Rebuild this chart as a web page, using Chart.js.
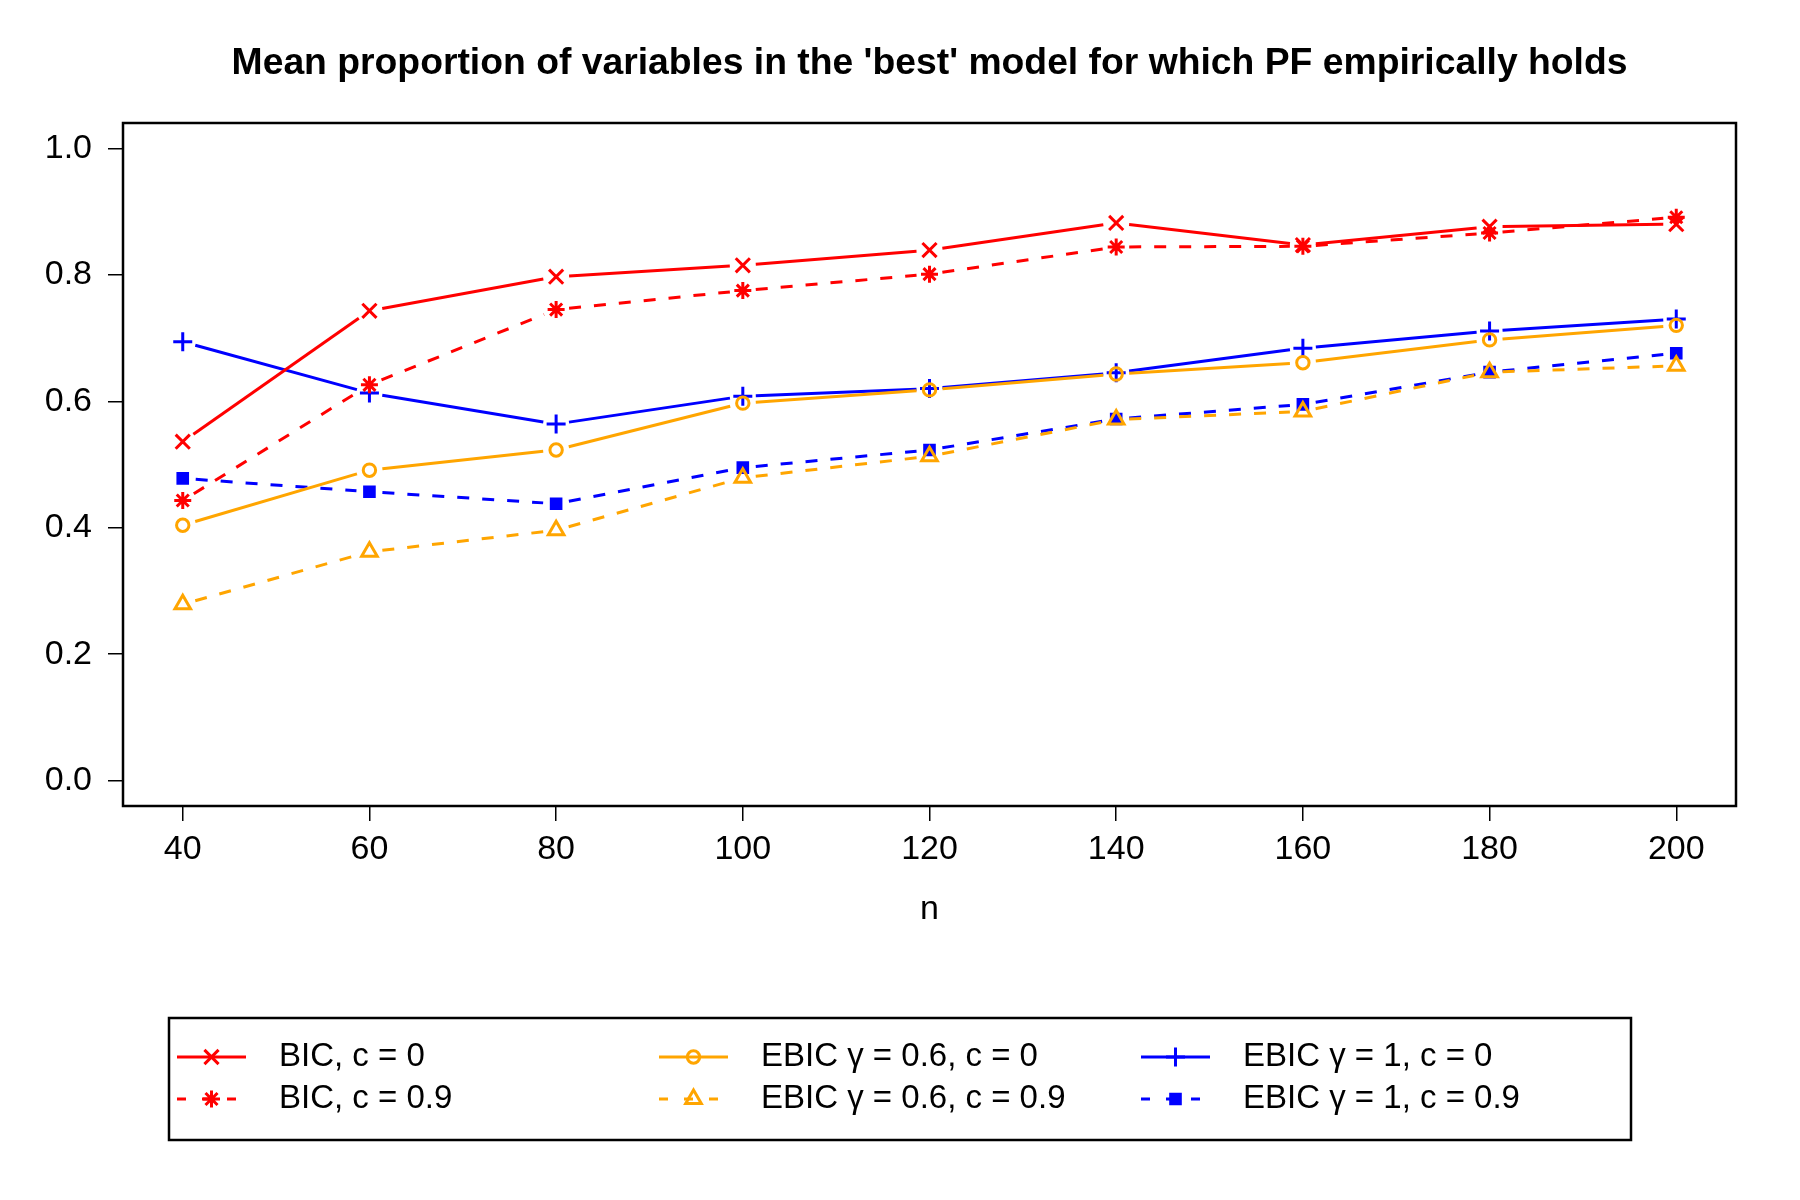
<!DOCTYPE html>
<html>
<head>
<meta charset="utf-8">
<script src="https://cdn.jsdelivr.net/npm/chart.js@4/dist/chart.umd.min.js"></script>
<style>
  html, body { margin: 0; padding: 0; background: #fff; }
  #wrap { width: 1800px; height: 1200px; }
</style>
</head>
<body>
<div id="wrap"><canvas id="grafico" width="1800" height="1200"></canvas></div>
<script>
// Dados
const nValores = [40, 60, 80, 100, 120, 140, 160, 180, 200];
const yTicks = [0, 0.2, 0.4, 0.6, 0.8, 1.0];

const bicC0     = [0.536, 0.743, 0.797, 0.815, 0.839, 0.882, 0.847, 0.876, 0.880];
const bicC09    = [0.443, 0.626, 0.745, 0.775, 0.801, 0.844, 0.845, 0.866, 0.891];
const ebic06C0  = [0.404, 0.491, 0.523, 0.597, 0.618, 0.643, 0.661, 0.697, 0.720];
const ebic06C09 = [0.279, 0.362, 0.396, 0.479, 0.513, 0.571, 0.584, 0.646, 0.656];
const ebic1C0   = [0.694, 0.613, 0.564, 0.608, 0.620, 0.645, 0.684, 0.711, 0.730];
const ebic1C09  = [0.478, 0.457, 0.438, 0.495, 0.523, 0.572, 0.595, 0.646, 0.676];

const TITULO = "Mean proportion of variables in the 'best' model for which PF empirically holds";
const FONTE = "'Liberation Sans', Arial, Helvetica, sans-serif";
const DASH = [12, 13];
const ESPESSURA = 3;
const FOLGA = 13; // espaço entre a linha e o marcador (como type = "b" no R)

function pontos(valores) {
    return valores.map((v, i) => ({ x: nValores[i], y: v }));
}

function serie(label, valores, cor, estilo, raio, tracejado, preenchido) {
    return {
        label: label,
        data: pontos(valores),
        showLine: false,
        borderColor: cor,
        backgroundColor: preenchido ? cor : 'rgba(0,0,0,0)',
        borderWidth: ESPESSURA,
        borderDash: tracejado ? DASH : [],
        pointStyle: estilo,
        pointRadius: raio,
        pointBorderWidth: ESPESSURA,
        pointBorderColor: cor,
        pointBackgroundColor: preenchido ? cor : 'rgba(0,0,0,0)',
        fill: false
    };
}

const datasets = [
    serie('BIC, c = 0', bicC0, '#ff0000', 'crossRot', 10, false, false),
    serie('BIC, c = 0.9', bicC09, '#ff0000', 'star', 8.5, true, false),
    serie('EBIC \u03b3 = 0.6, c = 0', ebic06C0, '#ffa500', 'circle', 6.2, false, false),
    serie('EBIC \u03b3 = 0.6, c = 0.9', ebic06C09, '#ffa500', 'triangle', 9, true, false),
    serie('EBIC \u03b3 = 1, c = 0', ebic1C0, '#0000ff', 'cross', 9.5, false, false),
    serie('EBIC \u03b3 = 1, c = 0.9', ebic1C09, '#0000ff', 'rect', 6.8, true, true)
];

// Linhas entre pontos com folga à volta dos marcadores
const linhasComFolga = {
    id: 'linhasComFolga',
    beforeDatasetDraw(chart, args) {
        const ds = chart.data.datasets[args.index];
        const pts = args.meta.data;
        const ctx = chart.ctx;
        ctx.save();
        ctx.strokeStyle = ds.borderColor;
        ctx.lineWidth = ds.borderWidth;
        ctx.lineCap = 'butt';
        for (let i = 0; i < pts.length - 1; i++) {
            const a = pts[i], b = pts[i + 1];
            const dx = b.x - a.x, dy = b.y - a.y;
            const d = Math.hypot(dx, dy);
            if (d <= 2 * FOLGA) continue;
            const ux = dx / d, uy = dy / d;
            ctx.setLineDash(ds.borderDash);
            ctx.lineDashOffset = 0;
            ctx.beginPath();
            ctx.moveTo(a.x + ux * FOLGA, a.y + uy * FOLGA);
            ctx.lineTo(b.x - ux * FOLGA, b.y - uy * FOLGA);
            ctx.stroke();
        }
        ctx.restore();
    }
};

// Título e moldura à volta da área do gráfico
const moldura = {
    id: 'moldura',
    afterDraw(chart) {
        const a = chart.chartArea;
        const ctx = chart.ctx;
        ctx.save();
        ctx.strokeStyle = '#000';
        ctx.lineWidth = 2.5;
        ctx.strokeRect(a.left, a.top, a.right - a.left, a.bottom - a.top);
        ctx.fillStyle = '#000';
        ctx.font = 'bold 37.3px ' + FONTE;
        ctx.textAlign = 'center';
        ctx.textBaseline = 'middle';
        ctx.fillText(TITULO, (a.left + a.right) / 2, 64);
        ctx.restore();
    }
};

// Legenda em 3 colunas x 2 linhas, desenhada à maneira do R
const legendaR = {
    id: 'legendaR',
    afterDraw(chart) {
        const ctx = chart.ctx;
        const caixa = { x: 169, y: 1018, w: 1462, h: 122 };
        const colunas = [177, 659, 1141];
        const linhas = [1057, 1099];
        ctx.save();
        ctx.strokeStyle = '#000';
        ctx.lineWidth = 2.5;
        ctx.strokeRect(caixa.x, caixa.y, caixa.w, caixa.h);
        chart.data.datasets.forEach((ds, i) => {
            const x0 = colunas[Math.floor(i / 2)];
            const y0 = linhas[i % 2];
            ctx.strokeStyle = ds.borderColor;
            ctx.lineWidth = ds.borderWidth;
            ctx.setLineDash(ds.borderDash.length ? [9, 16] : []);
            ctx.beginPath();
            ctx.moveTo(x0, y0);
            ctx.lineTo(x0 + 69, y0);
            ctx.stroke();
            ctx.setLineDash([]);
            ctx.fillStyle = ds.pointBackgroundColor;
            ctx.strokeStyle = ds.pointBorderColor;
            ctx.lineWidth = ds.pointBorderWidth;
            Chart.helpers.drawPoint(ctx, {
                pointStyle: ds.pointStyle,
                radius: ds.pointRadius,
                rotation: 0,
                borderWidth: ds.pointBorderWidth
            }, x0 + 34.5, y0);
            ctx.fillStyle = '#000';
            ctx.font = '33px ' + FONTE;
            ctx.textAlign = 'left';
            ctx.textBaseline = 'middle';
            ctx.fillText(ds.label, x0 + 102, y0);
        });
        ctx.restore();
    }
};

const ctx = document.getElementById('grafico').getContext('2d');
new Chart(ctx, {
    type: 'line',
    data: { datasets: datasets },
    options: {
        responsive: false,
        animation: false,
        layout: { padding: { left: 0, right: 64, top: 123, bottom: 264 } },
        plugins: {
            legend: { display: false },
            tooltip: { enabled: false },
            title: { display: false }
        },
        scales: {
            x: {
                type: 'linear',
                min: 33.6,
                max: 206.4,
                afterBuildTicks: s => { s.ticks = nValores.map(v => ({ value: v })); },
                afterFit: s => { s.height = 130; },
                grid: { display: true, drawOnChartArea: false, drawTicks: true, tickLength: 15, color: '#000', lineWidth: 1.5 },
                border: { display: false },
                ticks: { color: '#000', font: { family: FONTE, size: 34 }, padding: 8, maxRotation: 0, autoSkip: false },
                title: { display: true, text: 'n', color: '#000', font: { family: FONTE, size: 34 }, padding: { top: 0, bottom: 6 } }
            },
            y: {
                type: 'linear',
                min: -0.04,
                max: 1.04,
                afterBuildTicks: s => { s.ticks = yTicks.map(v => ({ value: v })); },
                afterFit: s => { s.width = 123; },
                grid: { display: true, drawOnChartArea: false, drawTicks: true, tickLength: 15, color: '#000', lineWidth: 1.5 },
                border: { display: false },
                ticks: { color: '#000', font: { family: FONTE, size: 34 }, padding: 16, callback: v => v.toFixed(1) }
            }
        }
    },
    plugins: [linhasComFolga, moldura, legendaR]
});
</script>
</body>
</html>
